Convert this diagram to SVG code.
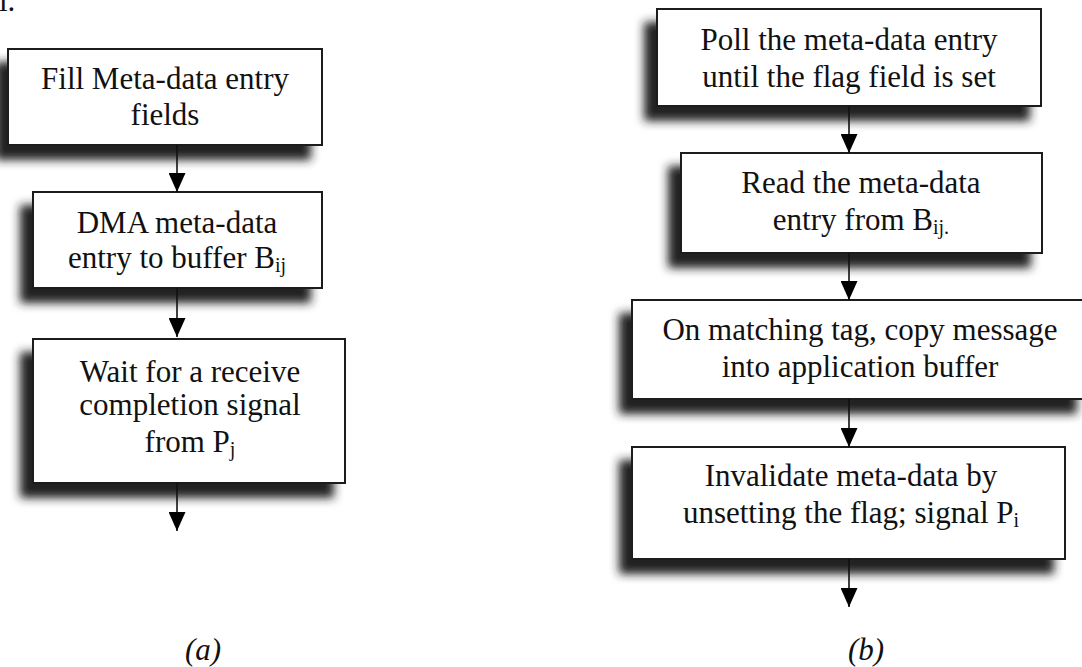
<svg xmlns="http://www.w3.org/2000/svg" width="1082" height="667" viewBox="0 0 1082 667">
<style>
  .box { fill: #fff; stroke: #1a1a1a; stroke-width: 2; filter: url(#shadow); }
  .t { font-family: "Liberation Serif", "Times New Roman", serif; font-size: 31px; fill: #111; text-anchor: middle; }
  .sub { font-size: 20px; }
  .cap { font-family: "Liberation Serif", "Times New Roman", serif; font-size: 31px; font-style: italic; fill: #111; text-anchor: middle; }
  .conn { stroke: #111; stroke-width: 1.6; fill: none; marker-end: url(#arrow); }
</style>
<defs>
  <filter id="shadow" x="-20%" y="-20%" width="140%" height="170%">
    <feDropShadow dx="-12" dy="14" stdDeviation="5" flood-color="#222" flood-opacity="1"/>
  </filter>
  <marker id="arrow" markerUnits="userSpaceOnUse" markerWidth="19" markerHeight="17" refX="19" refY="8.5" orient="auto" viewBox="0 0 19 17">
    <path d="M0,0 L19,8.5 L0,17 z" fill="#000"/>
  </marker>
</defs>
<rect width="1082" height="667" fill="#fff"/>
<text class="t" x="-1" y="11" style="text-anchor:start">l.</text>

<g id="a1">
  <rect class="box" x="8" y="49" width="314" height="96"/>
  <text class="t" x="165" y="89">Fill Meta-data entry</text>
  <text class="t" x="165" y="125">fields</text>
</g>
<g id="a2">
  <rect class="box" x="33" y="192" width="289" height="96"/>
  <text class="t" x="177" y="233">DMA meta-data</text>
  <text class="t" x="177" y="268">entry to buffer B<tspan class="sub" dy="4">ij</tspan></text>
</g>
<g id="a3">
  <rect class="box" x="33" y="339" width="312" height="144"/>
  <text class="t" x="190" y="382">Wait for a receive</text>
  <text class="t" x="190" y="415">completion signal</text>
  <text class="t" x="190" y="452">from P<tspan class="sub" dy="4">j</tspan></text>
</g>

<g id="b1">
  <rect class="box" x="657" y="9" width="384" height="97"/>
  <text class="t" x="849" y="50">Poll the meta-data entry</text>
  <text class="t" x="849" y="87">until the flag field is set</text>
</g>
<g id="b2">
  <rect class="box" x="681" y="153" width="361" height="100"/>
  <text class="t" x="861" y="193">Read the meta-data</text>
  <text class="t" x="861" y="230">entry from B<tspan class="sub" dy="4">ij.</tspan></text>
</g>
<g id="b3">
  <rect class="box" x="632" y="300" width="456" height="99"/>
  <text class="t" x="860" y="340">On matching tag, copy message</text>
  <text class="t" x="860" y="377">into application buffer</text>
</g>
<g id="b4">
  <rect class="box" x="632" y="447" width="433" height="112"/>
  <text class="t" x="851" y="486">Invalidate meta-data by</text>
  <text class="t" x="851" y="523">unsetting the flag; signal P<tspan class="sub" dy="4">i</tspan></text>
</g>

<g id="connectors">
  <line class="conn" x1="177" y1="145" x2="177" y2="192"/>
  <line class="conn" x1="177" y1="288" x2="177" y2="337"/>
  <line class="conn" x1="177" y1="483" x2="177" y2="531"/>
  <line class="conn" x1="849" y1="106" x2="849" y2="153"/>
  <line class="conn" x1="849" y1="253" x2="849" y2="300"/>
  <line class="conn" x1="849" y1="399" x2="849" y2="447"/>
  <line class="conn" x1="849" y1="559" x2="849" y2="607"/>
</g>

<text class="cap" x="203" y="660">(a)</text>
<text class="cap" x="866" y="660">(b)</text>
</svg>
